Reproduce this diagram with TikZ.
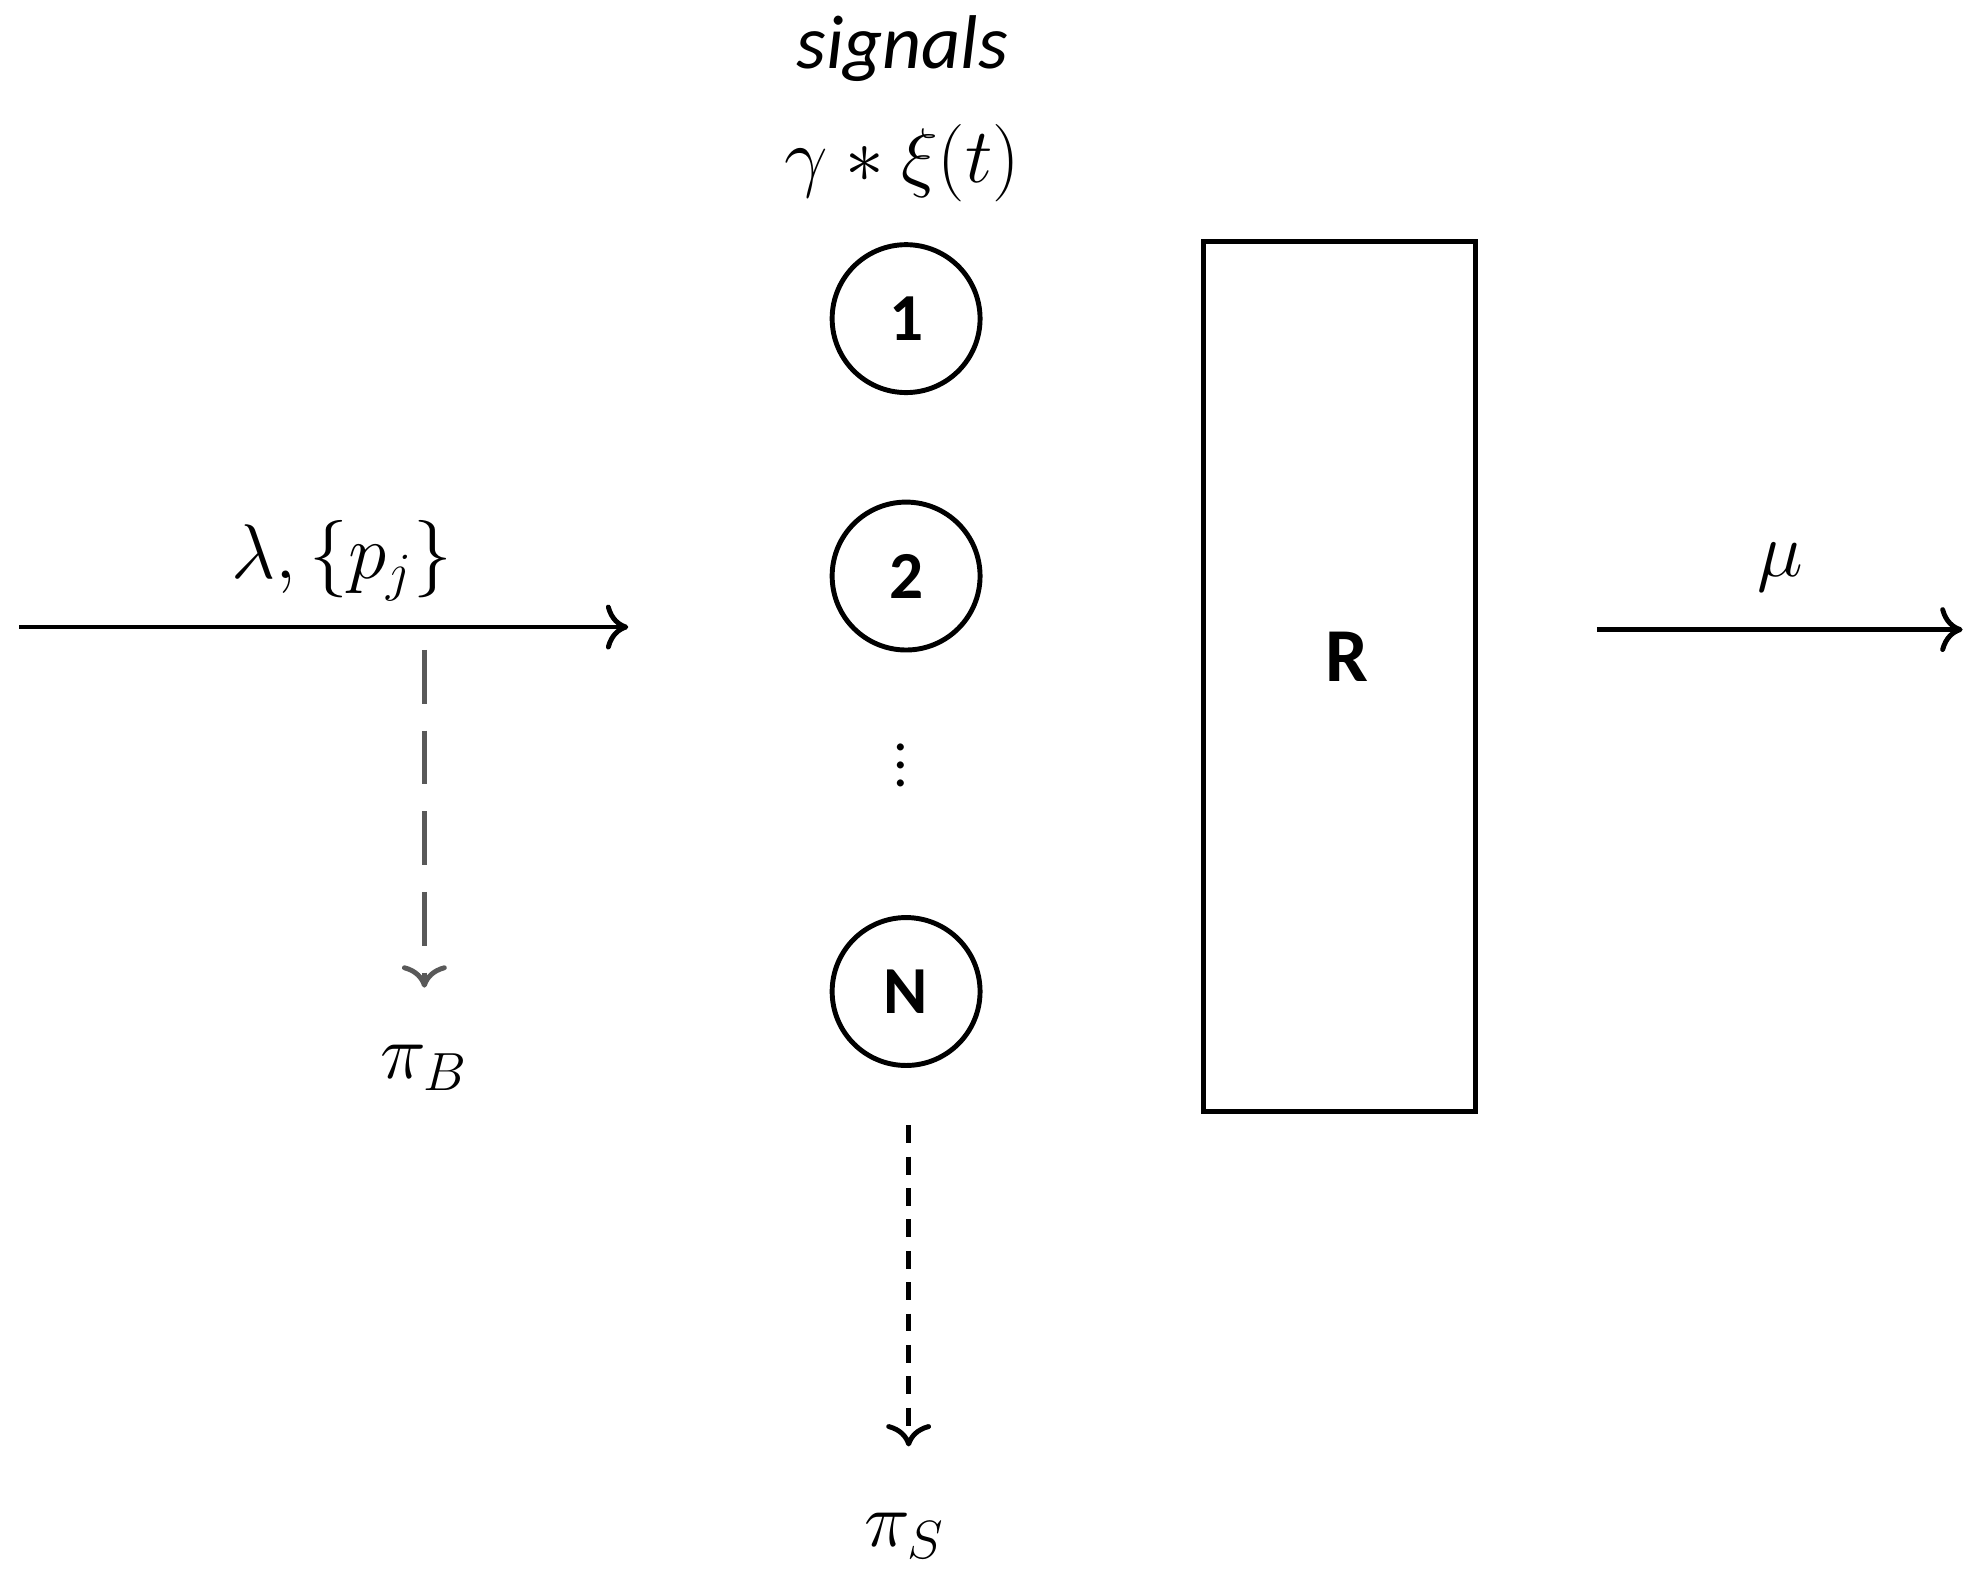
\documentclass[tikz,border=0pt]{standalone}
\usepackage{fontspec}
\setmainfont{Carlito}
\usepackage{tikz}
\usetikzlibrary{positioning,arrows.meta}
\tikzset{
  server/.style={draw, circle, line width=1.1pt, minimum size=1.16cm, inner sep=0pt, font=\fontsize{15}{18}\selectfont\bfseries},
  lbl/.style={inner sep=0pt, font=\fontsize{17}{20}\selectfont},
  flow/.style={line width=1.1pt, -{To[length=5pt,width=10pt]}}
}
\begin{document}
\begin{tikzpicture}[x=0.01cm,y=-0.01cm]
\useasboundingbox (0,0) rectangle (1556,1235);
% servers
\node[server] (s1) at (711,250) {1};
\node[server] (s2) at (711,452) {2};
\node[server] (sN) at (711,778) {N};
\node[inner sep=0pt, font=\fontsize{13}{16}\selectfont] (dots) at (707,590) {$\vdots$};
\node[lbl] (sig) at (708,38) {\textit{signals}};
\node[lbl] (gam) at (708,128) {$\gamma * \xi(t)$};
% reservoir
\node[draw, line width=1.1pt, minimum width=2.13cm, minimum height=6.82cm, inner sep=0pt] (R) at (1051,531) {};
\node[lbl, font=\fontsize{17}{20}\selectfont\bfseries] (Rl) at (1057,515) {R};
% arrivals
\coordinate (inA) at (15,492);
\coordinate (inB) at (493,492);
\draw[flow] (inA) -- (inB);
\node[lbl] (lam) at (268,440) {$\lambda,\{p_j\}$};
\coordinate (bA) at (333,510);
\coordinate (bB) at (333,775);
\draw[flow, gray!70!black, dash pattern=on 12pt off 6pt] (bA) -- (bB);
\node[lbl] (piB) at (333,838) {$\pi_B$};
% departures
\coordinate (sA) at (713,883);
\coordinate (sB) at (713,1135);
\draw[flow, dash pattern=on 4pt off 3pt] (sA) -- (sB);
\node[lbl] (piS) at (710,1205) {$\pi_S$};
\coordinate (oA) at (1253,494);
\coordinate (oB) at (1540,494);
\draw[flow] (oA) -- (oB);
\node[lbl] (mu) at (1397,445) {$\mu$};
\end{tikzpicture}
\end{document}
